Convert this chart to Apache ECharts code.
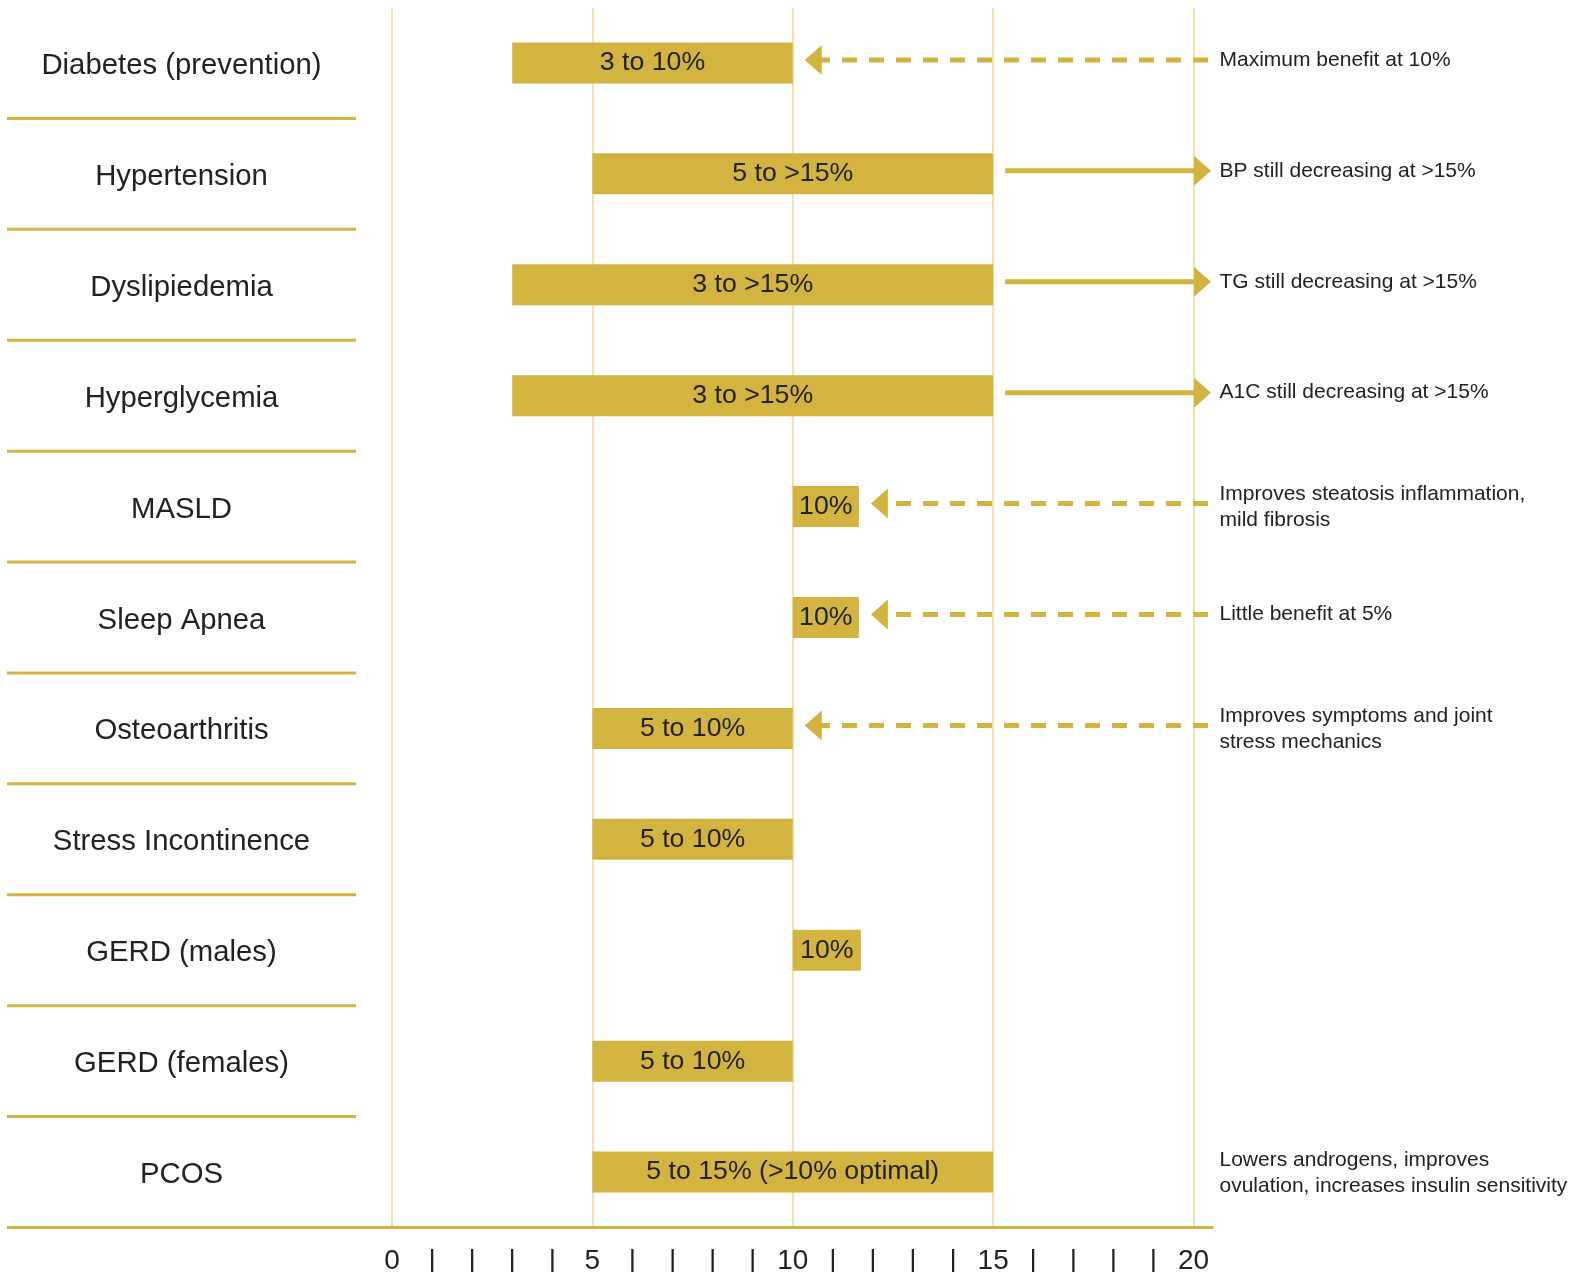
<!DOCTYPE html>
<html>
<head>
<meta charset="utf-8">
<script src="https://cdn.jsdelivr.net/npm/echarts@6/dist/echarts.min.js"></script>
<style>html,body{margin:0;padding:0;background:#fff}#c{width:1572px;height:1272px}</style>
</head>
<body>
<div id="c"></div>
<script>
// ---- data ----
const categories = ['Diabetes (prevention)','Hypertension','Dyslipiedemia','Hyperglycemia','MASLD','Sleep Apnea','Osteoarthritis','Stress Incontinence','GERD (males)','GERD (females)','PCOS'];
const barStart = [3, 5, 3, 3, 10, 10, 5, 5, 10, 5, 5];
const barEnd   = [10, 15, 15, 15, 11.65, 11.65, 10, 10, 11.7, 10, 15];
const barLabels = ['3 to 10%','5 to >15%','3 to >15%','3 to >15%','10%','10%','5 to 10%','5 to 10%','10%','5 to 10%','5 to 15% (>10% optimal)'];
// arrow: 'left' = dashed arrow pointing back to bar, 'right' = solid arrow pointing onward, '' = none
const arrowType = ['left','right','right','right','left','left','left','','','',''];
const notes = [
  'Maximum benefit at 10%',
  'BP still decreasing at >15%',
  'TG still decreasing at >15%',
  'A1C still decreasing at >15%',
  'Improves steatosis inflammation,\nmild fibrosis',
  'Little benefit at 5%',
  'Improves symptoms and joint\nstress mechanics',
  '', '', '',
  'Lowers androgens, improves\novulation, increases insulin sensitivity'
];
const xMin = 0, xMax = 20, majorStep = 5, minorStep = 1;

// ---- styles ----
const GOLD = '#d4b441';
const GRIDC = '#f2e3b3';
const TXT = '#222222';
const FONT = '"Liberation Sans", Arial, Helvetica, sans-serif';

const chart = echarts.init(document.getElementById('c'), null, {renderer: 'canvas'});

function arrowRender(params, api) {
  const i = params.dataIndex;
  const yc = api.coord([0, categories[i]])[1];
  const y = yc - 3;
  const xEnd = api.coord([barEnd[i], categories[i]])[0];
  const xRight = api.coord([xMax, categories[i]])[0];
  const children = [];
  const t = arrowType[i];
  if (t === 'left') {
    const tip = xEnd + 12;
    children.push({type:'line', shape:{x1: xRight + 14.5, y1: y, x2: tip + 14, y2: y},
      style:{stroke: GOLD, lineWidth: 5, lineDash:[15, 12]}});
    children.push({type:'polygon', shape:{points:[[tip, y],[tip+17, y-15],[tip+17, y+15]]}, style:{fill: GOLD}});
  } else if (t === 'right') {
    const tip = xRight + 17.5;
    children.push({type:'line', shape:{x1: xEnd + 12, y1: y, x2: tip - 14, y2: y},
      style:{stroke: GOLD, lineWidth: 5}});
    children.push({type:'polygon', shape:{points:[[tip, y],[tip-17, y-15],[tip-17, y+15]]}, style:{fill: GOLD}});
  }
  if (notes[i]) {
    const multi = notes[i].indexOf('\n') >= 0;
    children.push({type:'text', style:{x: xRight + 26, y: multi ? yc + 1 : yc - 3, text: notes[i], fill: TXT,
      font: '21px ' + FONT, lineHeight: 26, textAlign:'left', textVerticalAlign:'middle'}});
  }
  return {type:'group', children};
}

// row decoration: category name on the left and separator line below each row
function rowRender(params, api) {
  const i = params.dataIndex;
  const y = api.coord([0, categories[i]])[1];
  const h = api.size([0, 1])[1];
  const yb = y + h / 2;
  const last = i === categories.length - 1;
  const x2 = last ? api.coord([xMax, categories[i]])[0] + 20 : 356;
  return {type:'group', children:[
    {type:'line', shape:{x1: 7, y1: yb, x2: x2, y2: yb}, style:{stroke: GOLD, lineWidth: 3}},
    {type:'text', style:{x: 181.5, y: y + 3, text: categories[i], fill: TXT,
      font: '29.3px ' + FONT, textAlign:'center', textVerticalAlign:'middle'}}
  ]};
}

const option = {
  animation: false,
  backgroundColor: '#fff',
  grid: {left: 392, right: 378.5, top: 7.5, bottom: 44.5, containLabel: false, outerBoundsMode: 'none'},
  xAxis: [
    {type:'value', min: xMin, max: xMax, interval: minorStep,
      axisLine:{show:false}, axisTick:{show:false}, splitLine:{show:false},
      axisLabel:{color: TXT, fontSize: 28, fontFamily: FONT, margin: 20,
        formatter: v => (v % majorStep === 0 ? String(v) : '|')}},
    {type:'value', min: xMin, max: xMax, interval: majorStep, position:'bottom',
      axisLine:{show:false}, axisTick:{show:false}, axisLabel:{show:false},
      splitLine:{show:true, lineStyle:{color: GRIDC, width: 2}}}
  ],
  yAxis: {type:'category', inverse: true, data: categories,
    axisLine:{show:false}, axisTick:{show:false}, splitLine:{show:false},
    axisLabel:{show:false}},
  series: [
    {type:'bar', stack:'r', data: barStart, barWidth: 41, itemStyle:{color:'transparent'}, silent:true, z:3},
    {type:'bar', stack:'r', data: barEnd.map((e,i)=>+(e - barStart[i]).toFixed(2)), barWidth: 41,
      itemStyle:{color: GOLD}, z:3,
      label:{show:true, position:'inside', color: TXT, fontSize: 26.7, fontFamily: FONT,
        formatter: p => barLabels[p.dataIndex]}},
    {type:'custom', renderItem: arrowRender, data: categories.map((c,i)=>[barEnd[i], c]), z:4, clip:false},
    {type:'custom', renderItem: rowRender, data: categories.map((c)=>[0, c]), z:2, clip:false}
  ]
};
chart.setOption(option);
</script>
</body>
</html>
